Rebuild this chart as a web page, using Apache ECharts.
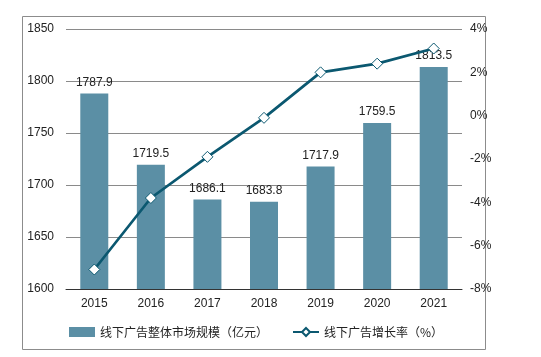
<!DOCTYPE html>
<html>
<head>
<meta charset="utf-8">
<script src="https://cdn.jsdelivr.net/npm/echarts@6/dist/echarts.min.js"></script>
<style>html,body{margin:0;padding:0;background:#fff;}#c{width:541px;height:357px;}</style>
</head>
<body>
<div id="c"></div>
<script>
const years = ['2015','2016','2017','2018','2019','2020','2021'];
const marketSize = [1787.9, 1719.5, 1686.1, 1683.8, 1717.9, 1759.5, 1813.5];
const growthRate = [-7.1, -3.8, -1.9, -0.1, 2.0, 2.4, 3.1];
const barName = '线下广告整体市场规模（亿元）';
const lineName = '线下广告增长率（%）';

const chart = echarts.init(document.getElementById('c'));
const font = 'Liberation Sans, Arial, sans-serif';
chart.setOption({
  animation: false,
  textStyle: {fontFamily: font},
  graphic: [{
    type: 'rect', left: 20, top: 14,
    shape: {width: 463, height: 333},
    style: {fill: 'none', stroke: '#8c8c8c', lineWidth: 1}
  }],
  grid: {left: 66, right: 79, top: 29, bottom: 68},
  legend: {
    left: 64, top: 321, itemWidth: 26, itemHeight: 10, itemGap: 24,
    textStyle: {fontSize: 12, color: '#222', fontFamily: 'Noto Sans CJK SC'},
    data: [
      {name: barName, icon: 'rect'},
      {name: lineName}
    ]
  },
  xAxis: {
    type: 'category', data: years,
    axisLine: {onZero: false, lineStyle: {color: '#333'}},
    axisTick: {show: false},
    axisLabel: {color: '#222', fontSize: 12, margin: 9}
  },
  yAxis: [{
    type: 'value', min: 1600, max: 1850, interval: 50,
    axisLine: {show: false}, axisTick: {show: false},
    axisLabel: {color: '#222', fontSize: 12, margin: 12, formatter: v => String(v)},
    splitLine: {lineStyle: {color: '#8a8a8a'}}
  }, {
    type: 'value', min: -8, max: 4, interval: 2,
    axisLine: {show: false}, axisTick: {show: false},
    axisLabel: {color: '#222', fontSize: 12, margin: 8, formatter: '{value}%'},
    splitLine: {show: false}
  }],
  series: [{
    name: barName, type: 'bar', data: marketSize, barWidth: 28,
    itemStyle: {color: '#5b8fa5'},
    label: {show: true, position: 'top', distance: 5, color: '#222', fontSize: 12}
  }, {
    name: lineName, type: 'line', yAxisIndex: 1, data: growthRate,
    symbol: 'diamond', symbolSize: 11,
    lineStyle: {color: '#0b5870', width: 2.7},
    itemStyle: {color: '#fff', borderColor: '#0b5870', borderWidth: 1}
  }]
});
</script>
</body>
</html>
